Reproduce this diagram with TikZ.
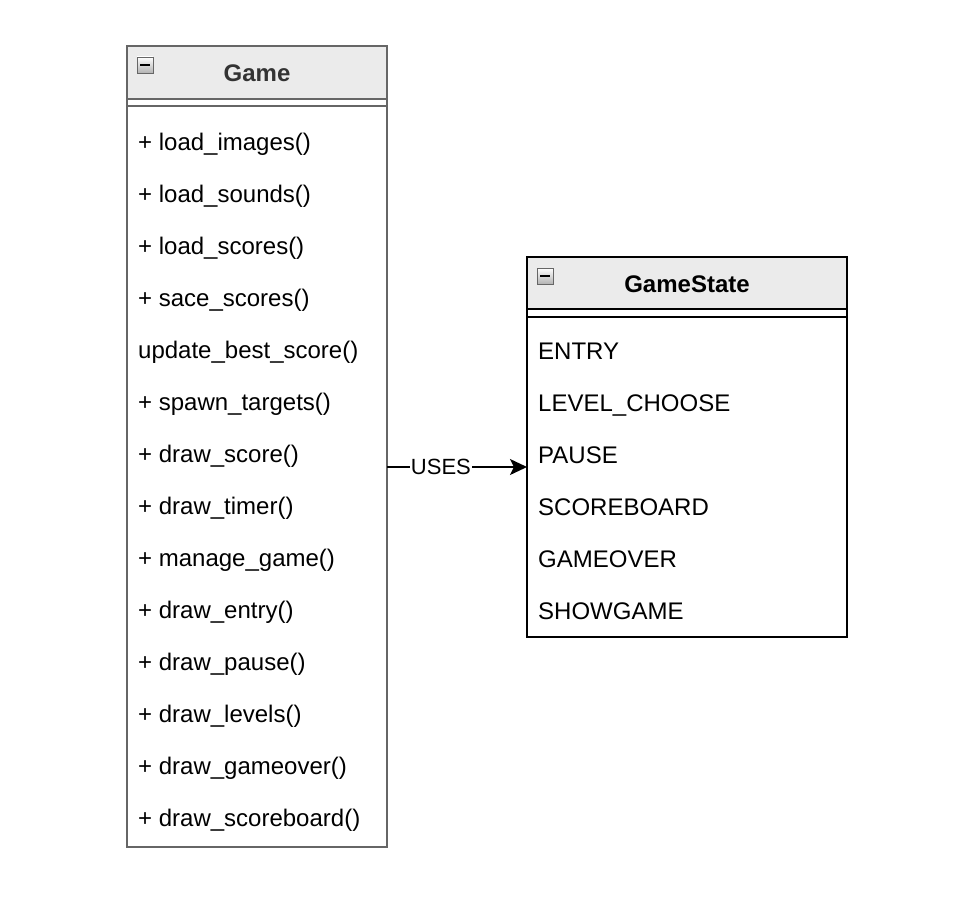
\documentclass[tikz,border=0pt]{standalone}
\usepackage{fontspec}
\setmainfont{Liberation Sans}
\usetikzlibrary{arrows.meta}
\definecolor{hdrfill}{HTML}{EBEBEB}
\definecolor{graybd}{HTML}{666666}
\definecolor{titlegray}{HTML}{333333}
\tikzset{
  item/.style={anchor=base west, inner sep=0pt, font=\fontsize{24}{28}\selectfont},
  ttl/.style={anchor=base, inner sep=0pt, font=\fontsize{24}{28}\selectfont\bfseries},
  icon/.style={draw=gray!80!black, line width=0.6pt, top color=white, bottom color=gray!60},
  lbl/.style={fill=white, inner sep=1pt, font=\fontsize{22}{26}\selectfont},
}
\begin{document}
\begin{tikzpicture}[x=1pt,y=-1pt]
\useasboundingbox (0,0) rectangle (960,896);
% ---- Game class ----
\fill[hdrfill] (127,46) rectangle (387,99);
\draw[graybd, line width=1.5pt] (127,46) rectangle (387,847);
\draw[graybd, line width=1.5pt] (127,99) -- (387,99);
\draw[graybd, line width=1.5pt] (127,106) -- (387,106);
\coordinate (gameE) at (387,467);
\node[ttl, text=titlegray] (gametitle) at (257,82) {Game};
\draw[icon] (137,57) rectangle (153,73);
\draw[line width=1.3pt] (140,65) -- (150,65);
\foreach \t [count=\i from 0] in {+ load\_images(), + load\_sounds(), + load\_scores(), + sace\_scores(), update\_best\_score(), + spawn\_targets(), + draw\_score(), + draw\_timer(), + manage\_game(), + draw\_entry(), + draw\_pause(), + draw\_levels(), + draw\_gameover(), + draw\_scoreboard()}
  \node[item] (g\i) at (138,{150.5+52*\i}) {\t};
% ---- GameState class ----
\fill[hdrfill] (527,257) rectangle (847,309);
\draw[black, line width=1.5pt] (527,257) rectangle (847,637);
\draw[black, line width=1.5pt] (527,309) -- (847,309);
\draw[black, line width=1.5pt] (527,317) -- (847,317);
\coordinate (stateW) at (527,467);
\node[ttl] (statetitle) at (687,292) {GameState};
\draw[icon] (537,268) rectangle (553,284);
\draw[line width=1.3pt] (540,276) -- (550,276);
\foreach \t [count=\i from 0] in {ENTRY, LEVEL\_CHOOSE, PAUSE, SCOREBOARD, GAMEOVER, SHOWGAME}
  \node[item] (s\i) at (538,{359.5+52*\i}) {\t};
% ---- connector ----
\draw[line width=1.5pt, -{Stealth[length=17pt,width=16pt,inset=4pt]}] (gameE) -- node[lbl, pos=0.385] (uses) {USES} (stateW);
\end{tikzpicture}
\end{document}
